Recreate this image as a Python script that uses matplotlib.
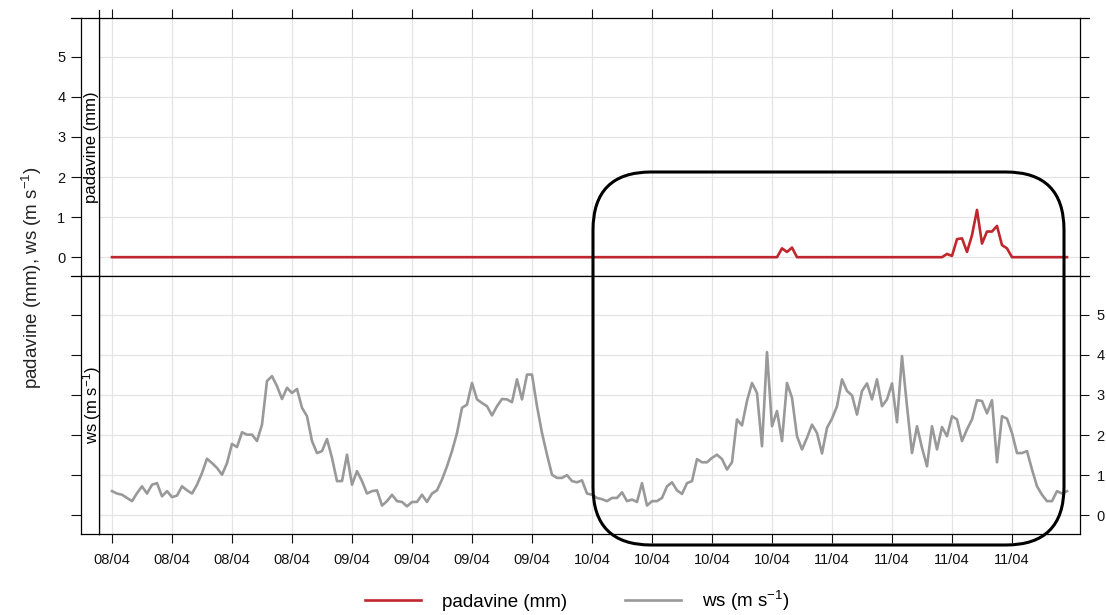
import numpy as np
import pandas as pd
import matplotlib
matplotlib.use("Agg")
import matplotlib.pyplot as plt
import matplotlib.dates as mdates
from matplotlib.patches import FancyBboxPatch
from matplotlib.transforms import IdentityTransform
from matplotlib.lines import Line2D

plt.rcParams['font.family'] = ['Liberation Sans', 'DejaVu Sans']
plt.rcParams['mathtext.fontset'] = 'custom'
plt.rcParams['mathtext.rm'] = 'Liberation Sans'
plt.rcParams['mathtext.it'] = 'Liberation Sans:italic'

# half-hourly series, 08/04 00:00 -> 11/04 23:30
times = pd.date_range("2014-04-08 00:00", periods=192, freq="30min")
# labelled ticks every 6 h, 08/04 00:00 -> 11/04 18:00
tick_times = pd.date_range("2014-04-08 00:00", periods=16, freq="6h")

padavine = [
    0, 0, 0, 0, 0, 0, 0, 0, 0, 0, 0, 0,
    0, 0, 0, 0, 0, 0, 0, 0, 0, 0, 0, 0,
    0, 0, 0, 0, 0, 0, 0, 0, 0, 0, 0, 0,
    0, 0, 0, 0, 0, 0, 0, 0, 0, 0, 0, 0,
    0, 0, 0, 0, 0, 0, 0, 0, 0, 0, 0, 0,
    0, 0, 0, 0, 0, 0, 0, 0, 0, 0, 0, 0,
    0, 0, 0, 0, 0, 0, 0, 0, 0, 0, 0, 0,
    0, 0, 0, 0, 0, 0, 0, 0, 0, 0, 0, 0,
    0, 0, 0, 0, 0, 0, 0, 0, 0, 0, 0, 0,
    0, 0, 0, 0, 0, 0, 0, 0, 0, 0, 0, 0,
    0, 0, 0, 0, 0, 0, 0, 0, 0, 0, 0, 0,
    0, 0, 0.22, 0.13, 0.24, 0, 0, 0, 0, 0, 0, 0,
    0, 0, 0, 0, 0, 0, 0, 0, 0, 0, 0, 0,
    0, 0, 0, 0, 0, 0, 0, 0, 0, 0, 0, 0.08,
    0.03, 0.45, 0.47, 0.13, 0.55, 1.18, 0.34, 0.64, 0.64, 0.78, 0.30, 0.22,
    0, 0, 0, 0, 0, 0, 0, 0, 0, 0, 0, 0,
]

ws = [
    0.60, 0.54, 0.51, 0.43, 0.35, 0.55, 0.72, 0.54, 0.76, 0.80, 0.47, 0.60,
    0.45, 0.49, 0.72, 0.62, 0.54, 0.76, 1.05, 1.41, 1.30, 1.18, 1.01, 1.30,
    1.78, 1.70, 2.07, 2.01, 2.01, 1.85, 2.26, 3.35, 3.47, 3.22, 2.90, 3.18,
    3.05, 3.15, 2.68, 2.47, 1.85, 1.55, 1.60, 1.90, 1.43, 0.85, 0.85, 1.51,
    0.76, 1.10, 0.85, 0.54, 0.60, 0.62, 0.24, 0.35, 0.51, 0.35, 0.33, 0.22,
    0.33, 0.33, 0.51, 0.33, 0.54, 0.62, 0.89, 1.22, 1.60, 2.05, 2.68, 2.76,
    3.30, 2.89, 2.80, 2.72, 2.49, 2.72, 2.90, 2.89, 2.82, 3.39, 2.89, 3.51,
    3.51, 2.72, 2.05, 1.51, 1.01, 0.93, 0.93, 1.00, 0.85, 0.82, 0.87, 0.54,
    0.51, 0.43, 0.40, 0.35, 0.43, 0.43, 0.57, 0.35, 0.39, 0.33, 0.80, 0.24,
    0.35, 0.35, 0.43, 0.72, 0.82, 0.62, 0.53, 0.80, 0.85, 1.40, 1.32, 1.32,
    1.43, 1.51, 1.40, 1.14, 1.32, 2.39, 2.24, 2.85, 3.30, 3.05, 1.72, 4.07,
    2.22, 2.60, 1.85, 3.30, 2.93, 1.97, 1.64, 1.93, 2.26, 2.05, 1.54, 2.18,
    2.41, 2.72, 3.39, 3.10, 2.99, 2.51, 3.10, 3.29, 2.89, 3.39, 2.72, 2.89,
    3.29, 2.32, 3.97, 2.72, 1.55, 2.22, 1.68, 1.22, 2.22, 1.64, 2.20, 1.97,
    2.47, 2.39, 1.85, 2.14, 2.39, 2.87, 2.85, 2.54, 2.87, 1.32, 2.47, 2.41,
    2.05, 1.55, 1.55, 1.60, 1.14, 0.72, 0.51, 0.35, 0.35, 0.60, 0.54, 0.60,
]

y_ticks = [0, 1, 2, 3, 4, 5]
red = "#c0262d"
grey = "#999999"
W, H = 1106, 615

fig = plt.figure(figsize=(W / 100, H / 100), dpi=100)


def px_axes(x0, y0, x1, y1):
    # axes from pixel box (top-left origin)
    return fig.add_axes([x0 / W, 1 - y1 / H, (x1 - x0) / W, (y1 - y0) / H])


ax_top = px_axes(99, 18, 1080, 276)
ax_bot = px_axes(99, 276, 1080, 534)
st_top = px_axes(81, 18, 99, 276)
st_bot = px_axes(81, 276, 99, 534)

t0 = times[0]
xlim = (t0 - pd.Timedelta(hours=1.3), t0 + pd.Timedelta(hours=96.8))
ylim = (-0.47, 5.97)

for ax in (ax_top, ax_bot):
    ax.set_xlim(xlim)
    ax.set_ylim(ylim)
    ax.set_yticks(y_ticks)
    ax.set_xticks(tick_times)
    ax.xaxis.set_major_formatter(mdates.DateFormatter("%d/%m"))
    ax.grid(True, color="#e4e4e4", lw=0.9)
    ax.set_axisbelow(True)
    for s in ax.spines.values():
        s.set_linewidth(0.9)
    ax.tick_params(left=False, labelleft=False, right=True, direction="out",
                   length=6.5, width=0.8, labelsize=10.5, colors="#111111")

ax_top.plot(times, padavine, color=red, lw=1.9)
ax_bot.plot(times, ws, color=grey, lw=1.9)

ax_top.tick_params(axis="x", top=True, bottom=False, labelbottom=False, labeltop=False)
ax_top.tick_params(axis="y", labelright=False)
ax_bot.tick_params(axis="x", top=False, bottom=True, labelbottom=True, pad=7)
ax_bot.tick_params(axis="y", labelright=True, pad=5.5)

# left strips with variable names
for st, name, lab in ((st_top, "padavine (mm)", True), (st_bot, r"ws (m s$^{-1}$)", False)):
    st.set_ylim(ylim)
    st.set_xticks([])
    st.set_yticks(y_ticks)
    st.tick_params(axis="y", direction="out", length=7.2, width=0.8,
                   labelleft=lab, labelsize=10.5, pad=4, colors="#111111")
    for s in st.spines.values():
        s.set_linewidth(0.9)
    st.text(0.6, 0.5, name, rotation=90, ha="center", va="center",
            fontsize=12, transform=st.transAxes)

fig.text(32 / W, 1 - 278 / H, r"padavine (mm), ws (m s$^{-1}$)", rotation=90,
         ha="center", va="center", fontsize=13.5, color="#222222")

# short edge marks beyond the frame
for y in (18, 276):
    for xa, xb in ((71, 81), (1080, 1089)):
        fig.add_artist(Line2D([xa, xb], [H - y, H - y], color="black", lw=0.9,
                              transform=IdentityTransform()))
fig.add_artist(Line2D([99, 99], [H - 18, H - 10], color="black", lw=0.9,
                      transform=IdentityTransform()))

# highlight box
box = FancyBboxPatch((593, H - 545), 471, 373,
                     boxstyle="round,pad=0,rounding_size=58",
                     fill=False, ec="black", lw=2.2,
                     transform=IdentityTransform(), zorder=10)
fig.add_artist(box)

handles = [Line2D([], [], color=red, lw=1.9), Line2D([], [], color=grey, lw=1.9)]
fig.legend(handles, ["padavine (mm)", r"ws (m s$^{-1}$)"], loc="center",
           bbox_to_anchor=(577 / W, 1 - 601 / H), ncol=2, frameon=False,
           fontsize=13.5, handlelength=3.0, handletextpad=1.1, columnspacing=3.1)

fig.savefig("out.png", dpi=100)
